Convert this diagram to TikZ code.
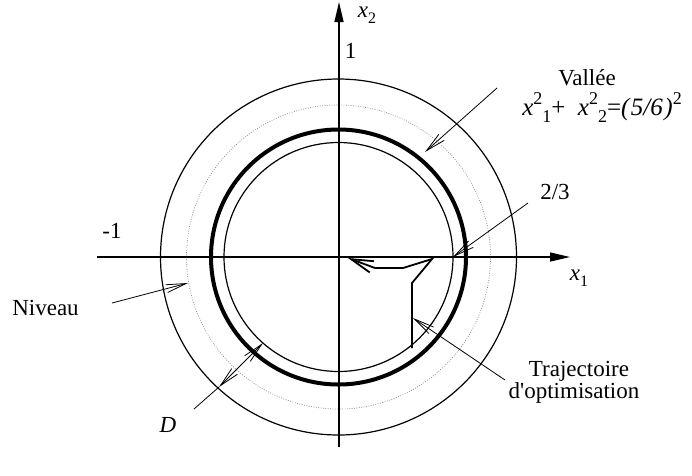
\documentclass[tikz,border=0pt]{standalone}
\usepackage{fontspec}
\setmainfont{Liberation Serif}
\usetikzlibrary{arrows.meta}
\newcommand\mysup[1]{\raisebox{0.40em}{\fontsize{16}{16}\selectfont #1}}
\newcommand\mysub[1]{\raisebox{-0.28em}{\fontsize{16}{16}\selectfont #1}}
\newcommand\fsup[1]{\raisebox{0.42em}{\fontsize{18}{18}\selectfont #1}}
\newcommand\fsub[1]{\raisebox{-0.28em}{\fontsize{18}{18}\selectfont #1}}
\begin{document}
\begin{tikzpicture}[x=1pt,y=-1pt,
  font=\fontsize{23}{20}\selectfont,
  circ/.style={line width=1.2pt},
  valley/.style={line width=4pt},
  level/.style={line width=0.7pt,gray,dash pattern=on 0.8pt off 1.6pt},
  axis/.style={line width=1.3pt,-{Triangle[length=20pt,width=9pt]}},
  leader/.style={line width=0.8pt,-{Straight Barb[length=20pt,width=8pt]}},
  traj/.style={line width=1.8pt,line join=miter},
  lbl/.style={inner sep=0pt,anchor=base}]
\useasboundingbox (0,0) rectangle (692,475);
\coordinate (O) at (338.5,257);
% circles
\draw[circ] (O) circle[radius=178pt];
\draw[level] (O) circle[radius=152pt];
\draw[valley] (O) circle[radius=127.5pt];
\draw[circ] (O) circle[radius=114.5pt];
% axes
\coordinate (xs) at (97,257);
\coordinate (xe) at (570,257);
\coordinate (ys) at (339,447);
\coordinate (ye) at (339,2);
\draw[axis] (xs) -- (xe);
\draw[axis] (ys) -- (ye);
% axis labels
\node[lbl] (lx1) at (579,280) {\textit{x}\mysub{1}};
\node[lbl] (lx2) at (367,17) {\textit{x}\mysub{2}};
\node[lbl] (l1) at (350.5,58) {1};
\node[lbl] (lm1) at (112,238) {-1};
\node[lbl] (l23) at (555,199) {2/3};
% trajectory
\coordinate (t0) at (348,258);
\coordinate (t1) at (375,268);
\coordinate (t2) at (403,268);
\coordinate (t3) at (432,259);
\coordinate (t4) at (412,283);
\coordinate (t5) at (412,348);
\draw[traj,{Straight Barb[length=22pt,width=12pt]}-] (t0) -- (t1) -- (t2) -- (t3) -- (t4) -- (t5);
% Vallee
\node[lbl] (vall) at (587,85) {Vallée};
\node[lbl,font=\fontsize{25}{25}\selectfont] (form) at (602,115) {\textit{x}\fsup{2}\fsub{1}+\ \ \textit{x}\fsup{2}\fsub{2}=\textit{(\kern1.5pt5/6\kern1.5pt)}\fsup{2}};
\coordinate (va) at (497,88);
\coordinate (vb) at (425,152);
\draw[leader] (va) -- (vb);
% 2/3
\coordinate (da) at (528,203);
\coordinate (db) at (453,257);
\draw[leader] (da) -- (db);
% Niveau
\node[lbl] (niv) at (45.5,315) {Niveau};
\coordinate (na) at (112,303);
\coordinate (nb) at (188,283);
\draw[leader] (na) -- (nb);
% D
\node[lbl] (dl) at (168,432) {\textit{D}};
\coordinate (Da) at (194,409);
\coordinate (Db) at (219,387);
\coordinate (Dc) at (263,343);
\draw[line width=0.8pt] (Da) -- (Db);
\draw[line width=0.8pt,{Straight Barb[length=20pt,width=8pt]}-{Straight Barb[length=20pt,width=8pt]}] (Db) -- (Dc);
% Trajectoire
\node[lbl] (trl) at (579,376) {Trajectoire};
\node[lbl] (trl2) at (574,398) {d\textquotesingle optimisation};
\coordinate (ta) at (505,380);
\coordinate (tb) at (413,318);
\draw[leader] (ta) -- (tb);
\end{tikzpicture}
\end{document}
